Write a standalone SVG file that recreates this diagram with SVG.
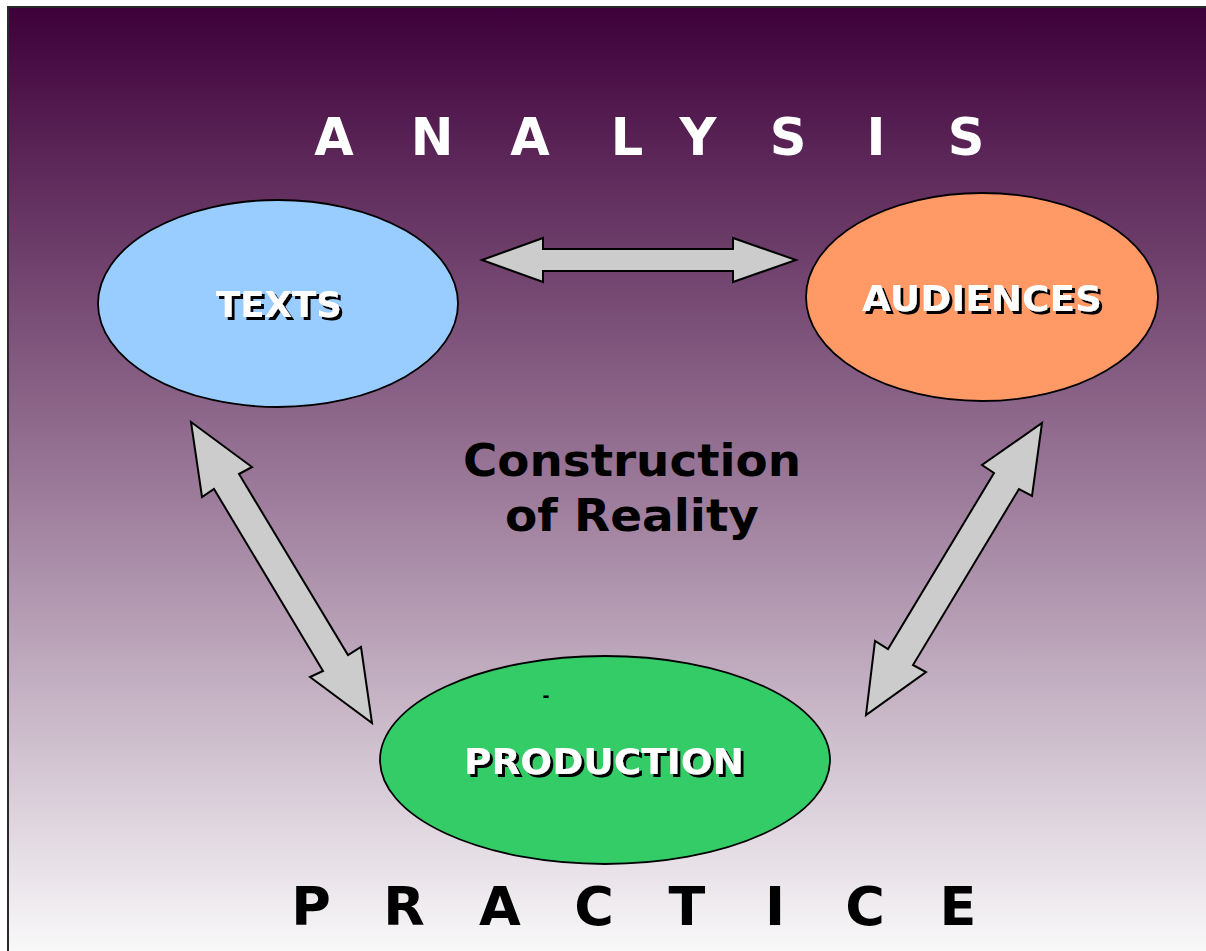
<svg xmlns="http://www.w3.org/2000/svg" width="1206" height="951" viewBox="0 0 1206 951">
  <defs>
    <linearGradient id="bg" x1="0" y1="0" x2="0" y2="1">
      <stop offset="0" stop-color="#3e003a"/>
      <stop offset="0.5" stop-color="#9a7898"/>
      <stop offset="1" stop-color="#fafafa"/>
    </linearGradient>
    <!-- hard black drop shadow for the node labels -->
    <filter id="shadow" x="-10%" y="-30%" width="120%" height="160%">
      <feOffset in="SourceAlpha" dx="2.5" dy="2.5" result="off"/>
      <feFlood flood-color="#000"/>
      <feComposite in2="off" operator="in" result="sh"/>
      <feMerge>
        <feMergeNode in="sh"/>
        <feMergeNode in="SourceGraphic"/>
      </feMerge>
    </filter>
    <style>
      .frame { fill: url(#bg); stroke: #2a2a2a; stroke-width: 2; }
      .node { stroke: #000; stroke-width: 1.8; }
      .arrow { fill: #cccccc; stroke: #000; stroke-width: 2; stroke-linejoin: miter; }
      .head { font-family: "DejaVu Sans", Verdana, sans-serif; font-weight: bold; text-anchor: middle; }
      .label { font-family: "DejaVu Sans", Verdana, sans-serif; font-weight: bold; font-size: 36px; text-anchor: middle; fill: #fff; filter: url(#shadow); }
    </style>
  </defs>

  <rect width="1206" height="951" fill="#fff"/>
  <rect class="frame" x="8" y="7" width="1205" height="950"/>

  <!-- headings -->
  <text class="head" font-size="51" fill="#fff" y="155"
        x="334 432 530 627 698 788 876 966">ANALYSIS</text>
  <text class="head" font-size="54" fill="#000" y="925"
        x="311 404 500 594 687 775 865 958">PRACTICE</text>

  <text class="head" font-size="45" fill="#000" x="632" y="476" textLength="338" lengthAdjust="spacingAndGlyphs">Construction</text>
  <text class="head" font-size="45" fill="#000" x="632" y="531" textLength="254" lengthAdjust="spacingAndGlyphs">of Reality</text>

  <!-- connectors -->
  <g id="connectors">
    <polygon class="arrow" points="482,260 543,238 543,249 733,249 733,238 796,260 733,282 733,271 543,271 543,282"/>
    <polygon class="arrow" points="191,422 252,467 239,474 348,655 361,647 372,723 310,677 323,671 214,489 202,497"/>
    <polygon class="arrow" points="1042,423 1032,496 1019,489 913,665 926,672 866,715 875,641 888,649 994,473 982,465"/>
  </g>

  <!-- nodes -->
  <g id="texts">
    <ellipse class="node" cx="278" cy="303.5" rx="180" ry="103.5" fill="#99ccff"/>
    <text class="label" x="279" y="317" textLength="126" lengthAdjust="spacingAndGlyphs">TEXTS</text>
  </g>

  <g id="audiences">
    <ellipse class="node" cx="982" cy="297" rx="176" ry="104" fill="#ff9966"/>
    <text class="label" x="982" y="311" textLength="240" lengthAdjust="spacingAndGlyphs">AUDIENCES</text>
  </g>

  <g id="production">
    <ellipse class="node" cx="605" cy="760" rx="225" ry="104" fill="#33cc66"/>
    <text class="label" x="604" y="774" textLength="280" lengthAdjust="spacingAndGlyphs">PRODUCTION</text>
    <text x="546" y="702" font-family="DejaVu Sans, sans-serif" font-weight="bold" font-size="17" text-anchor="middle" fill="#000">-</text>
  </g>
</svg>
